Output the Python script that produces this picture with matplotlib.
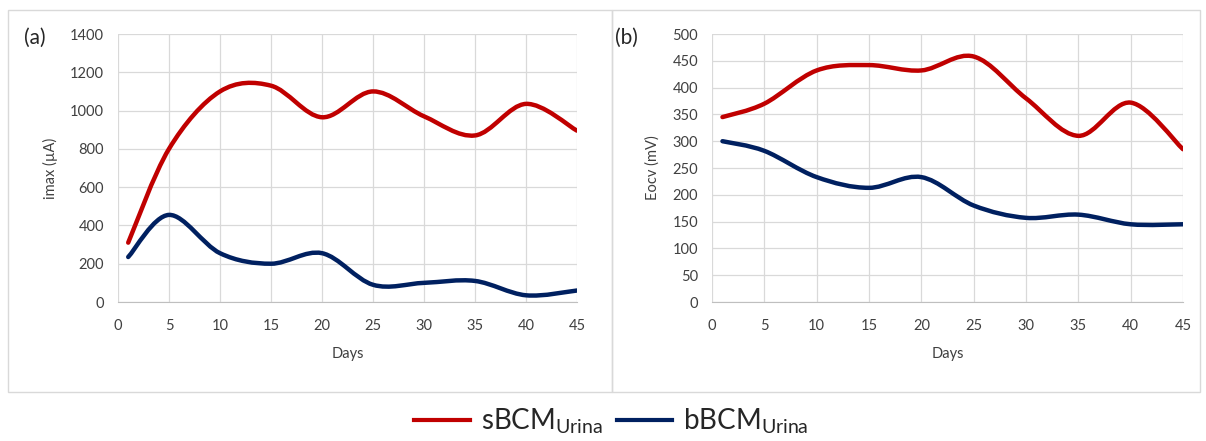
import matplotlib.pyplot as plt
from matplotlib.path import Path
from matplotlib.patches import PathPatch, Rectangle
from matplotlib.lines import Line2D

plt.rcParams["font.family"] = ["Lato", "DejaVu Sans"]
plt.rcParams["mathtext.fontset"] = "custom"
plt.rcParams["mathtext.rm"] = "Lato"

RED = "#C00000"
NAVY = "#002060"
GRID = "#D9D9D9"

days = [1, 5, 10, 15, 20, 25, 30, 35, 40, 45]

imax_s = [310, 800, 1100, 1130, 965, 1100, 970, 870, 1035, 895]
imax_b = [235, 455, 255, 200, 255, 90, 100, 110, 35, 60]

eocv_s = [345, 370, 432, 442, 432, 458, 380, 310, 372, 285]
eocv_b = [300, 282, 233, 213, 233, 180, 157, 163, 145, 145]


def smooth_path(x, y):
    # Excel-style smoothed line: cubic Bezier segments through each point
    n = len(x)
    verts = [(x[0], y[0])]
    codes = [Path.MOVETO]
    for i in range(n - 1):
        i0 = max(i - 1, 0)
        i3 = min(i + 2, n - 1)
        c1 = (x[i] + (x[i + 1] - x[i0]) / 6, y[i] + (y[i + 1] - y[i0]) / 6)
        c2 = (x[i + 1] - (x[i3] - x[i]) / 6, y[i + 1] - (y[i3] - y[i]) / 6)
        verts += [c1, c2, (x[i + 1], y[i + 1])]
        codes += [Path.CURVE4] * 3
    return Path(verts, codes)


def draw_panel(ax, s_vals, b_vals, ymax, ystep, ylabel, tag):
    for vals, color in [(s_vals, RED), (b_vals, NAVY)]:
        ax.add_patch(PathPatch(smooth_path(days, vals), facecolor="none",
                               edgecolor=color, lw=3.2, capstyle="round",
                               joinstyle="round", zorder=3))
    ax.set_xlim(0, 45)
    ax.set_ylim(0, ymax)
    ax.set_xticks(range(0, 46, 5))
    ax.set_yticks(range(0, ymax + 1, ystep))
    ax.grid(True, color=GRID, lw=0.9)
    ax.set_axisbelow(True)
    for side in ["top", "right", "left"]:
        ax.spines[side].set_visible(False)
    ax.spines["bottom"].set_color("#BFBFBF")
    ax.tick_params(length=0, labelsize=10.5, colors="#404040")
    ax.tick_params(axis="x", pad=12)
    ax.tick_params(axis="y", pad=10)
    ax.set_xlabel("Days", fontsize=10.5, color="#404040", labelpad=10)
    ax.set_ylabel(ylabel, fontsize=10.5, color="#404040", labelpad=9)
    ax.text(-0.205, 0.985, tag, transform=ax.transAxes, fontsize=15,
            color="#262626", va="center")


fig = plt.figure(figsize=(12.06, 4.41), dpi=100)

# chart frames
for x0, x1 in [(8, 612), (612, 1200)]:
    fig.patches.append(Rectangle((x0 / 1206, 1 - 392 / 441), (x1 - x0) / 1206,
                                 382 / 441, transform=fig.transFigure,
                                 facecolor="none", edgecolor=GRID, lw=1))

ax1 = fig.add_axes([118 / 1206, 1 - 302 / 441, 459 / 1206, 268 / 441])
ax2 = fig.add_axes([712 / 1206, 1 - 302 / 441, 471 / 1206, 268 / 441])

draw_panel(ax1, imax_s, imax_b, 1400, 200, "imax (µA)", "(a)")
draw_panel(ax2, eocv_s, eocv_b, 500, 50, "Eocv (mV)", "(b)")

handles = [Line2D([], [], color=RED, lw=3), Line2D([], [], color=NAVY, lw=3)]
fig.legend(handles, [r"sBCM$_{\mathrm{Urina}}$", r"bBCM$_{\mathrm{Urina}}$"],
           loc="center", bbox_to_anchor=(0.507, 0.045), ncol=2, frameon=False,
           fontsize=20, handlelength=2.0, columnspacing=0.5, handletextpad=0.4,
           labelcolor="#262626")

fig.savefig("out.png", dpi=100)
